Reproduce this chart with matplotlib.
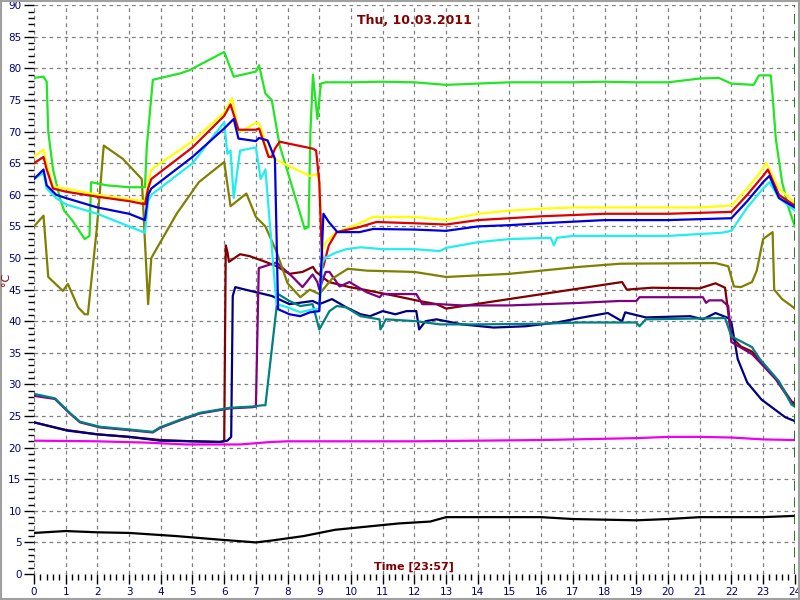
import matplotlib
matplotlib.use("Agg")
import matplotlib.pyplot as plt
from matplotlib.patches import Rectangle
from matplotlib.ticker import MultipleLocator

# ---- data (hours, °C) ----
t_green = [0, 0.3, 0.4, 0.45, 0.6, 0.82, 0.95, 1.2, 1.6, 1.75, 1.8, 2.3, 3.0, 3.5, 3.56, 3.75, 4.0, 4.6, 4.9, 5.2,
           6.0, 6.3, 7.0, 7.1, 7.3, 7.5, 7.75, 8.16, 8.54, 8.66, 8.72, 8.8, 8.94, 9.05, 9.2, 10, 11, 12, 13, 14, 15,
           16, 17, 18, 19, 20, 21, 21.6, 22.0, 22.7, 22.87, 23.24, 23.3, 23.4, 23.6, 23.8, 24]
v_green = [78.5, 78.7, 77.9, 70, 64, 59.4, 57.5, 56, 53, 53.5, 62, 61.5, 61.2, 61.2, 67.8, 78.2, 78.5, 79.2, 79.7, 80.5,
           82.6, 78.7, 79.5, 80.5, 76, 75, 67.8, 61, 54.6, 54.9, 70, 79, 72, 77.6, 77.8, 77.8, 77.9, 77.8, 77.4, 77.6, 77.8,
           77.8, 77.8, 77.9, 77.8, 77.8, 78.4, 78.5, 77.6, 77.4, 78.9, 78.9, 75.7, 68.9, 62, 58, 55]

t_yellow = [0, 0.3, 0.4, 0.6, 1.0, 2.0, 3.0, 3.5, 3.6, 3.7, 5.0, 6.0, 6.25, 6.45, 6.6, 7.0, 7.1, 7.2, 7.4, 7.85, 8.7,
            8.94, 9.0, 9.1, 9.2, 9.55, 10.05, 10.7, 12, 13, 14, 15, 16, 17, 18, 20, 21, 22, 22.5, 22.9, 23.1, 23.5, 24]
v_yellow = [66, 67.2, 65, 61.3, 61, 60, 59.3, 59, 62, 64, 68.5, 73, 75.3, 70, 70.2, 71.4, 71.3, 70, 66.2, 65, 63,
            63.3, 62, 51, 52.5, 54.1, 55, 56.5, 56.5, 56, 57, 57.5, 57.8, 58, 58, 58, 58, 58.3, 61, 63.5, 65, 61, 58.7]

t_red = [0, 0.3, 0.4, 0.6, 1.0, 2.0, 3.0, 3.5, 3.6, 3.7, 5.0, 6.0, 6.2, 6.45, 7.0, 7.1, 7.4, 7.5, 7.6, 7.75, 8.8, 8.9,
         9.0, 9.07, 9.12, 9.3, 9.55, 10.27, 10.8, 12, 13, 14, 15, 16, 18, 20, 22, 22.5, 23.0, 23.15, 23.5, 24]
v_red = [65, 66, 64, 61, 60.5, 59.7, 59, 58.5, 61, 62.5, 67.5, 72.5, 74.3, 70.3, 70.3, 70.5, 66, 66, 67.3, 68.4, 67.3, 67,
         62, 52, 48.5, 52, 54.1, 54.9, 55.7, 55.5, 55.3, 56, 56.3, 56.6, 57, 57, 57.3, 60, 63, 64, 60, 58.3]

t_blue = [0, 0.3, 0.4, 0.7, 1.0, 2.0, 3.0, 3.5, 3.6, 3.7, 5.0, 6.0, 6.3, 6.45, 7.0, 7.1, 7.37, 7.6, 7.7, 8.06, 8.4, 8.7,
          9.0, 9.07, 9.13, 9.3, 9.57, 10.27, 10.7, 12, 13, 14, 15, 16, 18, 20, 22, 22.5, 23.0, 23.2, 23.5, 24]
v_blue = [62.5, 64, 61.5, 60, 59.5, 58, 57, 56, 60, 61, 66, 70.5, 72, 68.9, 68.5, 69, 68.6, 65.7, 41.9, 41.1, 40.8, 41.4,
          41.6, 49.8, 57, 55.7, 54.1, 54.1, 54.6, 54.5, 54.3, 55, 55.2, 55.5, 56, 56, 56.3, 59, 62, 63, 59.5, 58]

t_cyan = [0, 0.3, 0.4, 0.7, 1.0, 2.0, 3.0, 3.5, 3.6, 3.7, 5.0, 6.0, 6.1, 6.2, 6.3, 6.5, 7.0, 7.15, 7.3, 7.65, 8.0, 8.4,
          8.8, 9.0, 9.1, 9.2, 9.55, 9.85, 10.3, 11, 12, 12.8, 13, 14, 15, 16.3, 16.4, 16.5, 17, 18, 20, 21.7, 22,
          22.5, 23.0, 23.2, 23.5, 24]
v_cyan = [62.5, 63.5, 61, 59.5, 58.5, 57, 55, 54, 59, 60, 65, 71.5, 66.5, 67, 59.5, 67, 67.5, 62.5, 64, 42.7, 42.2, 41.4,
          41.9, 41.9, 49.3, 50.1, 50.9, 51.4, 51.7, 51.4, 51.4, 51.1, 51.6, 52.5, 53, 53.2, 52, 53.2, 53.5, 53.5, 53.5,
          54, 54.3, 58, 61, 62, 59.5, 57.5]

t_olive = [0, 0.3, 0.45, 0.91, 1.07, 1.39, 1.6, 1.7, 1.98, 2.2, 2.8, 3.4, 3.6, 3.7, 4.5, 5.2, 6.0, 6.2, 6.7, 7.0, 7.3,
           7.65, 8.0, 8.4, 8.7, 9.0, 9.4, 9.9, 10.5, 12, 13, 15, 17.2, 18.5, 21.5, 21.9, 22.08, 22.3, 22.65, 22.8,
           23.0, 23.3, 23.35, 23.6, 23.9, 24]
v_olive = [55, 56.7, 47, 44.8, 45.9, 42.2, 41.1, 41.1, 54.6, 67.8, 65.7, 62.5, 42.7, 50, 57, 62, 65.2, 58.2, 60.2, 56.5,
           55, 51, 46, 43.8, 45, 44.3, 46.7, 48.3, 48, 47.8, 47, 47.5, 48.6, 49.1, 49.2, 48.7, 45.5, 45.4, 46.2, 48,
           53, 54.1, 45, 43.5, 42.4, 42]

t_maroon = [0, 1, 2, 3, 4, 5, 5.86, 6.0, 6.05, 6.1, 6.15, 6.5, 6.8, 7.3, 7.65, 8.06, 8.47, 8.8, 8.9, 9.3, 9.95, 10.4,
            11.4, 12.15, 12.7, 13.0, 18.55, 18.7, 19.5, 21.0, 21.5, 21.8, 22.0, 22.3, 22.65, 22.9, 23.4, 23.9, 24]
v_maroon = [24, 22.8, 22.1, 21.7, 21.2, 21.0, 20.9, 21.0, 52, 51, 49.4, 50.6, 50.3, 49.4, 48.7, 47.5, 47.8, 48.6, 47.8,
            46.2, 45.4, 45, 44, 43.2, 42.7, 42, 46.2, 45, 45.3, 45.2, 46, 45.3, 37.5, 36, 35.2, 33.8, 31, 27.3, 27]

t_navy = [0, 1.04, 2, 3, 3.97, 5.0, 5.86, 6.1, 6.22, 6.27, 6.35, 6.58, 7.5, 8.06, 8.79, 9.0, 9.4, 9.85, 10.3, 10.6, 11.0,
          11.4, 11.75, 12.06, 12.15, 12.35, 12.7, 13.5, 14.5, 15.5, 16.5, 17.2, 18.1, 18.55, 18.65, 19.3, 20.7, 21.1,
          21.5, 21.9, 22.0, 22.2, 22.5, 22.95, 23.7, 24]
v_navy = [24, 22.7, 22.1, 21.7, 21.1, 21.0, 20.9, 21.1, 21.7, 44, 45.4, 45.1, 44, 42.7, 43.2, 42.7, 43.5, 42.2, 41.1,
          40.8, 41.6, 41.1, 41.6, 41.6, 38.7, 40, 40.3, 39.5, 39, 39.2, 39.8, 40.5, 41.3, 40, 41.4, 40.6, 40.8, 40.3,
          41.3, 40.5, 39.8, 34, 30.3, 27.6, 24.8, 24.2]

t_purple = [0, 0.66, 1.13, 1.45, 2.08, 2.93, 3.75, 3.97, 4.6, 5.23, 6.17, 6.9, 7.0, 7.09, 7.65, 8.16, 8.47, 8.79, 8.94,
            9.0, 9.2, 9.32, 9.64, 9.95, 10.49, 10.9, 10.99, 12.06, 12.25, 12.79, 13.5, 15, 17.2, 18.46, 19.0, 19.1,
            21.1, 21.2, 21.3, 21.7, 21.9, 22.0, 22.65, 22.9, 23.4, 23.9, 24]
v_purple = [28.2, 27.7, 25.4, 24.0, 23.2, 22.8, 22.4, 23.1, 24.3, 25.4, 26.2, 26.4, 26.5, 48.4, 49.3, 47, 45.4, 47.4,
            46.2, 45, 47.8, 47.8, 45.5, 46.2, 44.6, 43.8, 44.3, 44.3, 42.7, 42.7, 42.5, 42.5, 42.9, 43.2, 43.2, 43.8,
            43.8, 42.9, 43.3, 43.3, 42.4, 36.7, 34.8, 33.5, 30.8, 27.1, 26.8]

t_teal = [0, 0.66, 1.13, 1.45, 2.08, 2.93, 3.75, 3.97, 4.6, 5.23, 6.17, 6.9, 7.2, 7.3, 7.7, 8.06, 8.4, 8.79, 9.0, 9.32,
          9.55, 9.85, 10.3, 10.9, 10.93, 11.1, 12.06, 12.8, 14, 16, 17.2, 18.1, 19.0, 19.1, 19.3, 21.8, 22.0, 22.65,
          22.9, 23.5, 23.9, 24]
v_teal = [28.5, 27.8, 25.5, 24.1, 23.3, 22.9, 22.5, 23.2, 24.4, 25.5, 26.3, 26.5, 26.7, 26.7, 44.3, 43.2, 42.4, 42.7,
          38.7, 41.6, 42.4, 42.2, 40.8, 40.3, 38.7, 40.3, 40, 39.5, 39.5, 39.6, 39.8, 39.8, 39.8, 39.2, 40.3, 40.5,
          37.6, 35.9, 34, 30.5, 26.8, 26.5]

t_magenta = [0, 2, 3.5, 4.8, 6.5, 7.5, 8, 10, 12, 14, 16, 18, 19, 20, 21, 22, 23, 24]
v_magenta = [21.1, 21.0, 20.8, 20.5, 20.5, 20.9, 21.0, 21.0, 21.0, 21.1, 21.2, 21.4, 21.5, 21.7, 21.7, 21.6, 21.3, 21.2]

t_black = [0, 1, 2, 3, 4.5, 5.7, 7, 7.5, 8.5, 9.5, 10.5, 11.5, 12.5, 13, 15, 16, 17, 19, 20, 21, 23, 24]
v_black = [6.5, 6.8, 6.6, 6.5, 6.0, 5.5, 5.0, 5.3, 6.0, 7.0, 7.5, 8.0, 8.3, 9.0, 9.0, 9.0, 8.7, 8.5, 8.7, 9.0, 9.0, 9.2]

xticks = list(range(0, 25))
yticks = list(range(0, 91, 5))

fig = plt.figure(figsize=(8, 6), dpi=100)
ax = fig.add_axes([0.0425, 0.0433, 0.951, 0.948])

# grid first
ax.set_axisbelow(True)
ax.grid(True, color="#808080", linestyle=(0, (3, 3)), linewidth=0.9)

series = [
    (t_magenta, v_magenta, "#ee00ee"),
    (t_black, v_black, "#000000"),
    (t_maroon, v_maroon, "#800000"),
    (t_navy, v_navy, "#000080"),
    (t_purple, v_purple, "#800080"),
    (t_teal, v_teal, "#008080"),
    (t_olive, v_olive, "#808000"),
    (t_green, v_green, "#22e622"),
    (t_yellow, v_yellow, "#ffff00"),
    (t_red, v_red, "#dd0000"),
    (t_cyan, v_cyan, "#22eeee"),
    (t_blue, v_blue, "#0000dd"),
]
for tt, vv, c in series:
    ax.plot(tt, vv, color=c, lw=1.6)

# current time marker
ax.axvline(24, color="#006400", lw=1.2, linestyle=(0, (6, 4)))

ax.set_xlim(0, 24)
ax.set_ylim(0, 90)
ax.set_xticks(xticks)
ax.set_yticks(yticks)
ax.xaxis.set_minor_locator(MultipleLocator(0.2))
ax.yaxis.set_minor_locator(MultipleLocator(1))
ax.tick_params(axis="both", which="major", length=7, width=1, color="black",
               labelcolor="#000080", labelsize=7.5, pad=2)
ax.tick_params(axis="both", which="minor", length=4, width=1, color="black")
for s in ax.spines.values():
    s.set_visible(False)

ax.text(0.5, 0.985, "Thu, 10.03.2011", transform=ax.transAxes, ha="center", va="top",
        color="#800000", fontsize=9, fontweight="bold")
ax.text(0.5, 0.004, "Time [23:57]", transform=ax.transAxes, ha="center", va="bottom",
        color="#800000", fontsize=8, fontweight="bold")
# y unit sits left of the tick labels, between 45 and 50
fig.text(0.008, 0.535, "°C", rotation=90, ha="center", va="center", color="#800000", fontsize=8)

# grey frame around the window
fig.patches.append(Rectangle((0.001, 0.001), 0.998, 0.997, transform=fig.transFigure,
                             fill=False, edgecolor="#a0a0a0", lw=1.5))

plt.savefig("out.png", dpi=100)
